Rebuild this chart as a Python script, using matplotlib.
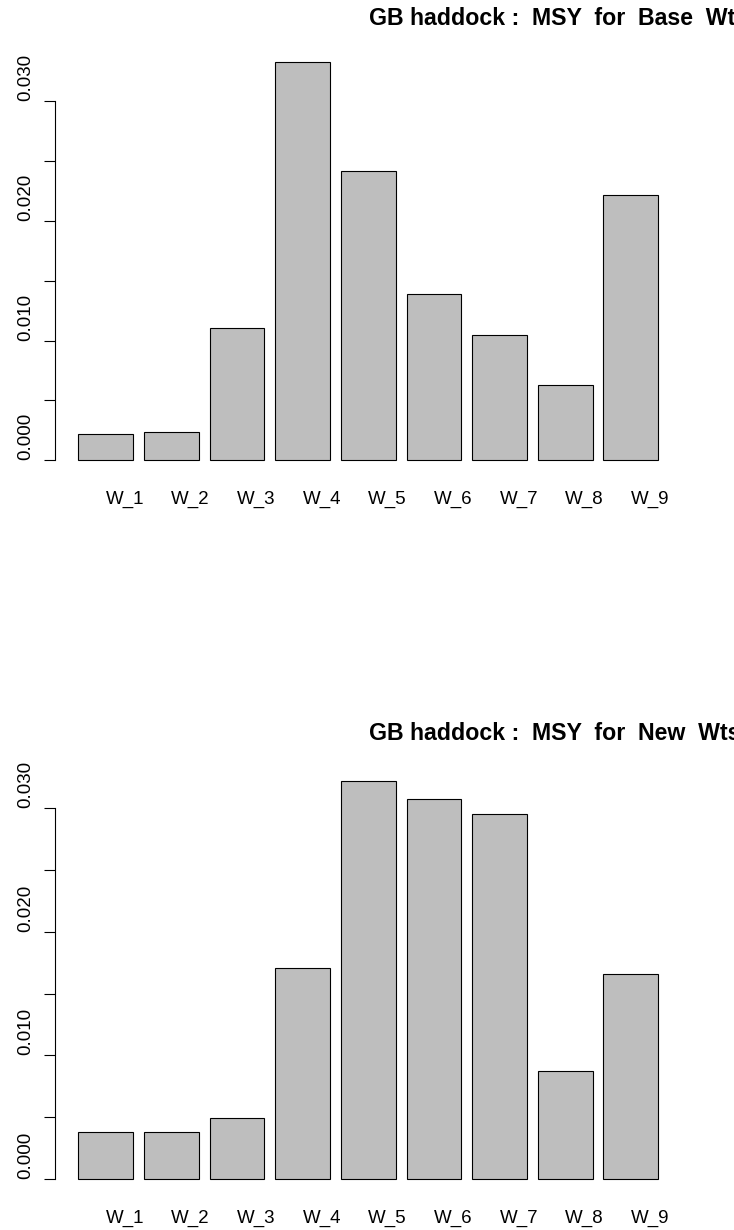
import numpy as np
import matplotlib
matplotlib.use("Agg")
import matplotlib.pyplot as plt

plt.rcParams['font.family'] = ['Liberation Sans', 'DejaVu Sans']

# weights-at-age labels and MSY-based values for the two weight sets
labels = ["W_1", "W_2", "W_3", "W_4", "W_5", "W_6", "W_7", "W_8", "W_9"]
base_wts = [0.00220, 0.00233, 0.01103, 0.03330, 0.02414, 0.01387, 0.01044, 0.00631, 0.02213]
new_wts = [0.00380, 0.00380, 0.00493, 0.01711, 0.03221, 0.03072, 0.02956, 0.00873, 0.01663]
titles = ["GB haddock :  MSY  for  Base  Wts", "GB haddock :  MSY  for  New  Wts"]

W, H = 734, 1230
fig = plt.figure(figsize=(W / 100, H / 100), dpi=100)

fs = 13.5
yticks = np.arange(0, 0.0301, 0.005)
ytick_labels = ["0.000", "", "0.010", "", "0.020", "", "0.030"]

# barplot-style geometry: width 1, space 0.2
n = len(labels)
lefts = 0.2 + 1.2 * np.arange(n)
centers = lefts + 0.5
xlo, xhi = lefts[0], lefts[-1] + 1.0
xpad = 0.04 * (xhi - xlo)

# plot regions in pixels (left, top of region, bottom of region)
regions = [(55, 46, 476), (55, 765, 1195)]
title_base = [25, 740]

for vals, title, (lx, ty, by), tb in zip([base_wts, new_wts], titles, regions, title_base):
    ax = fig.add_axes([lx / W, 1 - by / H, 626.4 / W, (by - ty) / H])
    ax.bar(centers, vals, width=1.0, color="#bebebe", edgecolor="black", linewidth=0.8)
    top = max(vals)
    ax.set_xlim(xlo - xpad, xhi + xpad)
    ax.set_ylim(-0.04 * top, 1.04 * top)

    for s in ["top", "right", "bottom"]:
        ax.spines[s].set_visible(False)
    ax.spines["left"].set_bounds(0, 0.030)
    ax.spines["left"].set_linewidth(0.8)

    # labels start at their tick and read upwards
    ax.set_yticks(yticks)
    ax.set_yticklabels(ytick_labels, rotation=90, va="bottom", fontsize=fs)
    ax.tick_params(axis="y", length=8, width=0.8, pad=7)

    ax.set_xticks(centers)
    ax.set_xticklabels(labels, ha="left", fontsize=fs)
    ax.tick_params(axis="x", length=0, pad=10.5)

    fig.text(369 / W, 1 - tb / H, title, ha="left", va="baseline",
             fontsize=16.7, fontweight="bold")

fig.savefig("out.png", dpi=100)
